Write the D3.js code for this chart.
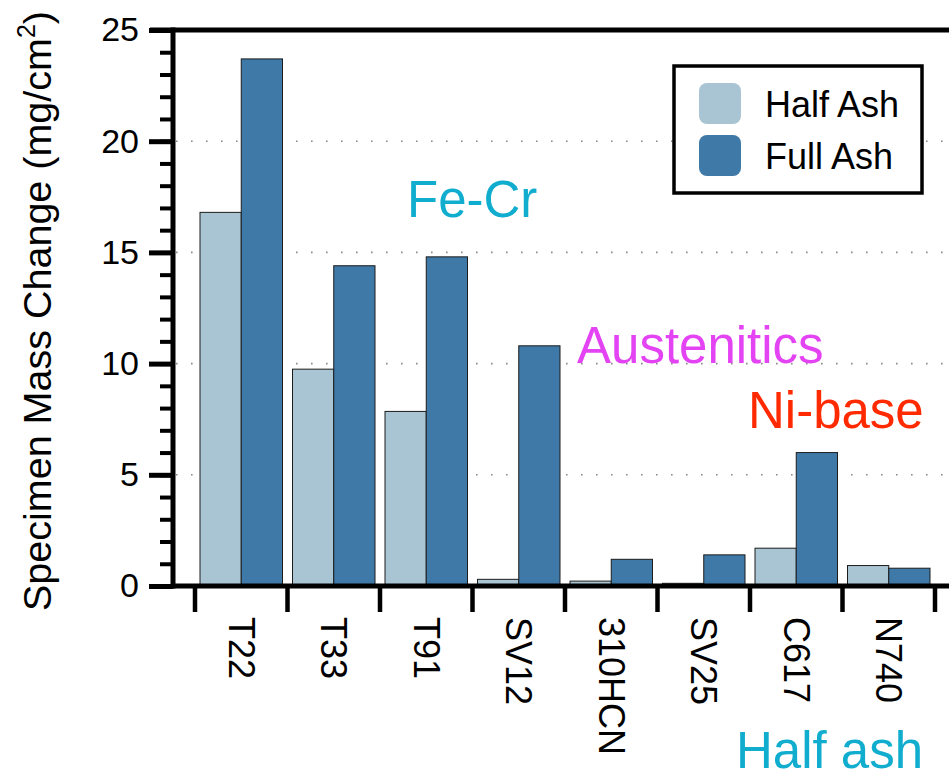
<!DOCTYPE html>
<html>
<head>
<meta charset="utf-8">
<script src="https://cdn.jsdelivr.net/npm/d3@7"></script>
<style>
  body { margin: 0; background: #fff; }
  svg { display: block; font-family: 'Liberation Sans', Arial, Helvetica, sans-serif; }
</style>
</head>
<body>
<svg width="949" height="780"></svg>
<script>
var categories = ['T22', 'T33', 'T91', 'SV12', '310HCN', 'SV25', 'C617', 'N740'];
var halfAsh = [16.8, 9.75, 7.85, 0.3, 0.22, 0.12, 1.7, 0.92];
var fullAsh = [23.7, 14.4, 14.8, 10.8, 1.2, 1.4, 6.0, 0.8];
var seriesNames = ['Half Ash', 'Full Ash'];
var seriesColors = ['#a9c5d3', '#3e79a8'];
var yTicks = [0, 5, 10, 15, 20, 25];

var svg = d3.select('svg');

var x0 = d3
  .scaleBand()
  .domain(categories)
  .range([195, 935]);
var x1 = d3
  .scaleBand()
  .domain(seriesNames)
  .range([5, x0.bandwidth() - 5]);
var y = d3
  .scaleLinear()
  .domain([0, 25])
  .range([586, 30]);

// dotted grid at the major ticks
svg
  .append('g')
  .selectAll('line')
  .data(yTicks.filter(function(d) { return d > 0 && d < 25; }))
  .join('line')
  .attr('x1', 176)
  .attr('x2', 949)
  .attr('y1', function(d) { return y(d); })
  .attr('y2', function(d) { return y(d); })
  .attr('stroke', '#8a8a8a')
  .attr('stroke-width', 1.6)
  .attr('stroke-dasharray', '1.6 13.4');

// bars
var rows = categories.map(function(c, i) {
  return {cat: c, values: [halfAsh[i], fullAsh[i]]};
});
svg
  .append('g')
  .selectAll('g')
  .data(rows)
  .join('g')
  .attr('transform', function(d) { return 'translate(' + x0(d.cat) + ',0)'; })
  .selectAll('rect')
  .data(function(d) {
    return d.values.map(function(v, j) { return {name: seriesNames[j], value: v, i: j}; });
  })
  .join('rect')
  .attr('x', function(d) { return x1(d.name); })
  .attr('width', x1.bandwidth())
  .attr('y', function(d) { return y(d.value); })
  .attr('height', function(d) { return y(0) - y(d.value); })
  .attr('fill', function(d) { return seriesColors[d.i]; })
  .attr('stroke', '#1c1c1c')
  .attr('stroke-width', 1);

// y axis: major and minor ticks
var yAxis = svg.append('g').attr('transform', 'translate(173,0)');
yAxis
  .call(d3.axisLeft(y).tickValues(d3.range(0, 26, 1)).tickSize(13).tickFormat(''))
  .call(function(g) { g.select('.domain').remove(); })
  .selectAll('line')
  .attr('stroke', '#000')
  .attr('stroke-width', 4);
yAxis
  .append('g')
  .call(d3.axisLeft(y).tickValues(yTicks).tickSize(24).tickPadding(10))
  .call(function(g) { g.select('.domain').remove(); })
  .call(function(g) {
    g.selectAll('line').attr('stroke', '#000').attr('stroke-width', 5);
    g.selectAll('text')
      .attr('fill', '#000')
      .attr('font-size', 34)
      .attr('font-family', "'Liberation Sans', Arial, sans-serif");
  });

// frame lines
svg.append('line')
  .attr('x1', 173).attr('x2', 173)
  .attr('y1', y(25) - 2.5).attr('y2', y(0) + 2.5)
  .attr('stroke', '#000').attr('stroke-width', 5);
svg.append('line')
  .attr('x1', 150).attr('x2', 949)
  .attr('y1', y(25)).attr('y2', y(25))
  .attr('stroke', '#000').attr('stroke-width', 5);

// x axis
var xAxis = svg.append('g').attr('transform', 'translate(0,' + y(0) + ')');
xAxis.append('line')
  .attr('x1', 171).attr('x2', 949)
  .attr('stroke', '#000').attr('stroke-width', 5);
xAxis
  .selectAll('line.tick')
  .data(categories.concat(['end']))
  .join('line')
  .attr('class', 'tick')
  .attr('x1', function(d, i) { return x0.range()[0] + i * x0.step(); })
  .attr('x2', function(d, i) { return x0.range()[0] + i * x0.step(); })
  .attr('y1', 0)
  .attr('y2', 26)
  .attr('stroke', '#000')
  .attr('stroke-width', 4.5);
xAxis
  .selectAll('text')
  .data(categories)
  .join('text')
  .attr('transform', function(d) {
    return 'translate(' + (x0(d) + x0.bandwidth() / 2) + ',31) rotate(90)';
  })
  .attr('dy', '0.35em')
  .attr('font-size', 36)
  .attr('fill', '#000')
  .text(function(d) { return d; });

// y label
var yLabel = svg.append('text')
  .attr('transform', 'translate(51,311) rotate(-90)')
  .attr('text-anchor', 'middle')
  .attr('font-size', 39.5)
  .attr('fill', '#000');
yLabel.append('tspan').text('Specimen Mass Change (mg/cm');
yLabel.append('tspan').attr('font-size', 25).attr('dy', -16).text('2');
yLabel.append('tspan').attr('dy', 16).text(')');

// legend
var legend = svg.append('g');
legend.append('rect')
  .attr('x', 674).attr('y', 66)
  .attr('width', 248).attr('height', 127)
  .attr('fill', '#fff')
  .attr('stroke', '#000')
  .attr('stroke-width', 3.5);
legend
  .selectAll('g')
  .data(seriesNames)
  .join('g')
  .attr('transform', function(d, i) { return 'translate(699,' + (83 + i * 52) + ')'; })
  .call(function(g) {
    g.append('rect')
      .attr('width', 42).attr('height', 41)
      .attr('rx', 8)
      .attr('fill', function(d, i) { return seriesColors[i]; });
    g.append('text')
      .attr('x', 66).attr('y', 34)
      .attr('font-size', 36)
      .attr('fill', '#000')
      .text(function(d) { return d; });
  });

// group annotations
var notes = [
  {text: 'Fe-Cr', color: '#10adce', x: 407, y: 217},
  {text: 'Austenitics', color: '#e443f4', x: 577, y: 363},
  {text: 'Ni-base', color: '#ff2a00', x: 748, y: 428},
  {text: 'Half ash', color: '#10adce', x: 736, y: 768}
];
svg.append('g')
  .selectAll('text')
  .data(notes)
  .join('text')
  .attr('x', function(d) { return d.x; })
  .attr('y', function(d) { return d.y; })
  .attr('font-size', 51)
  .attr('fill', function(d) { return d.color; })
  .text(function(d) { return d.text; });
</script>
</body>
</html>
